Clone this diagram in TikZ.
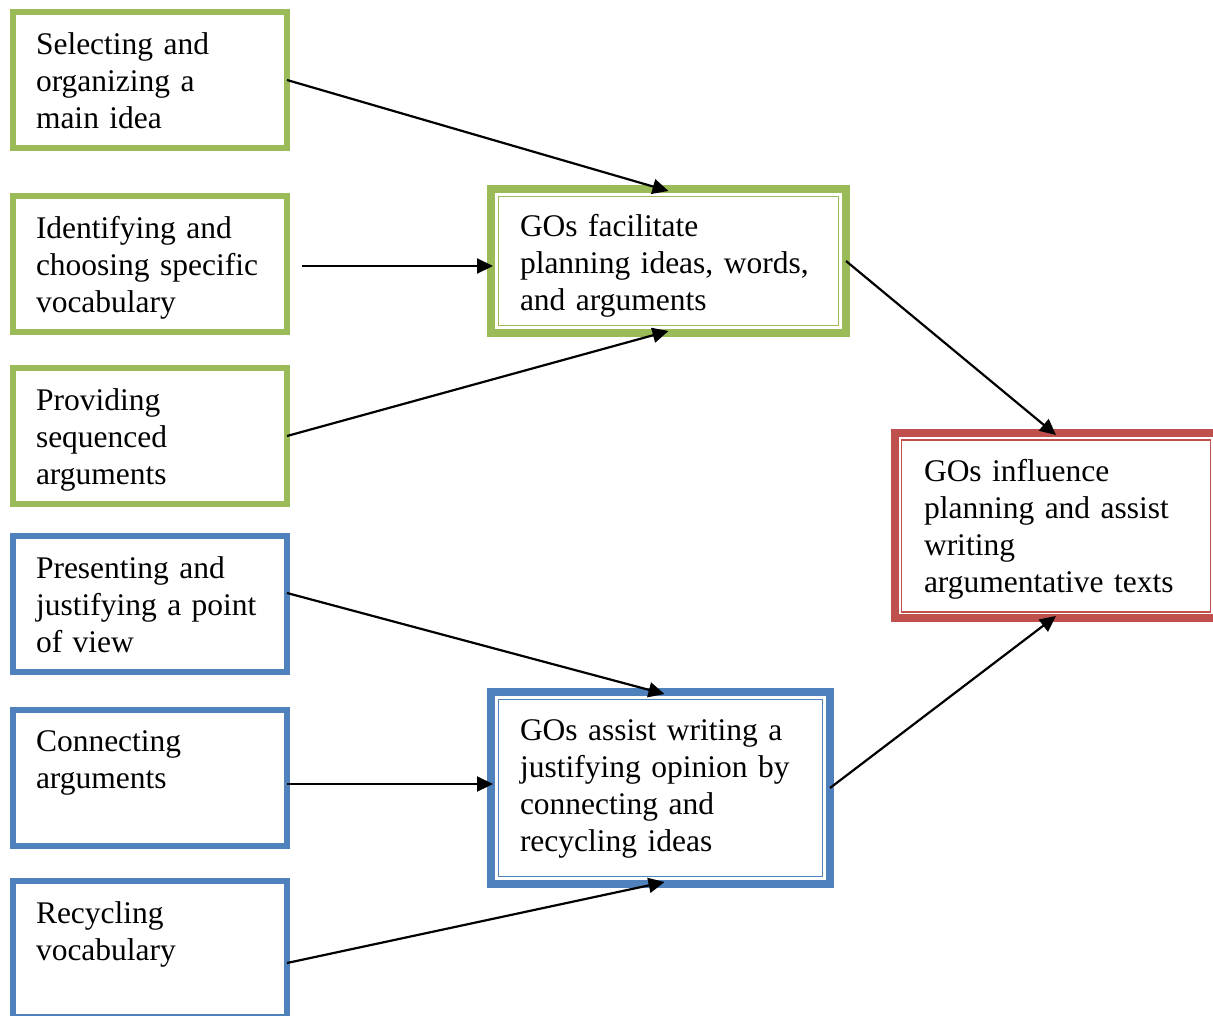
\documentclass[tikz,border=0pt]{standalone}
\usepackage{fontspec}
\setmainfont{Liberation Serif}
\usetikzlibrary{arrows.meta}
\definecolor{gogreen}{HTML}{9BBB59}
\definecolor{goblue}{HTML}{4F81BD}
\definecolor{gored}{HTML}{C0504D}
\begin{document}
\begin{tikzpicture}[x=1pt,y=-1pt,
  every node/.style={font=\fontsize{31.5}{37}\selectfont, outer sep=0pt},
  smallbox/.style={draw, line width=6pt, minimum width=274pt, minimum height=136pt,
    inner xsep=23pt, inner ysep=0pt, text width=228pt, align=left,
    text height=30pt, text depth=82pt},
  bigbox/.style={draw, line width=8pt, inner xsep=29pt, inner ysep=0pt, align=left},
  innerline/.style={line width=1.6pt},
  link/.style={line width=2.2pt, -{Triangle[length=16pt,width=15pt]}}]
\clip (0,0) rectangle (1213,1015);
\useasboundingbox (0,0) rectangle (1213,1015);
\fill[white] (0,0) rectangle (1213,1015);

% left column
\node[smallbox, gogreen, text=black] (b1) at (150,80) {Selecting and\\organizing a\\main idea};
\node[smallbox, gogreen, text=black] (b2) at (150,264) {Identifying and\\choosing specific\\vocabulary};
\node[smallbox, gogreen, text=black] (b3) at (150,436) {Providing\\sequenced\\arguments};
\node[smallbox, goblue, text=black] (b4) at (150,604) {Presenting and\\justifying a point\\of view};
\node[smallbox, goblue, text=black] (b5) at (150,777.5) {Connecting\\arguments};
\node[smallbox, goblue, text=black] (b6) at (150,949) {Recycling\\vocabulary};

% middle column
\node[bigbox, gogreen, text=black, minimum width=355pt, minimum height=144pt,
  text width=297pt, text height=32pt, text depth=82pt] (g) at (668.5,261)
  {GOs facilitate\\planning ideas, words,\\and arguments};
\draw[innerline, gogreen] ([shift={(7.5,7.5)}]g.north west) rectangle ([shift={(-7.5,-7.5)}]g.south east);

\node[bigbox, goblue, text=black, minimum width=339pt, minimum height=192pt,
  text width=281pt, text height=23pt, text depth=119pt] (bm) at (660.5,788)
  {GOs assist writing a\\justifying opinion by\\connecting and\\recycling ideas};
\draw[innerline, goblue] ([shift={(7.5,7.5)}]bm.north west) rectangle ([shift={(-7.5,-7.5)}]bm.south east);

% right
\node[bigbox, gored, text=black, minimum width=322pt, minimum height=185pt,
  text width=264pt, text height=30pt, text depth=119pt] (r) at (1056,525.5)
  {GOs influence\\planning and assist\\writing\\argumentative texts};
\draw[innerline, gored] ([shift={(6.5,7)}]r.north west) rectangle ([shift={(-6.5,-6)}]r.south east);

% connectors
\coordinate (a2s) at (302,266);
\coordinate (a5s) at (287,784);
\draw[link] (b1.east) -- ([yshift=-2pt]g.north);
\draw[link] (a2s) -- ([xshift=2pt]g.west |- a2s);
\draw[link] (b3.east) -- ([yshift=2pt]g.south);
\draw[link] ([yshift=11pt]b4.east) -- ([xshift=4pt,yshift=-2pt]bm.north);
\draw[link] (a5s) -- ([xshift=2pt]bm.west |- a5s);
\draw[link] ([yshift=-14pt]b6.east) -- ([xshift=4pt,yshift=2pt]bm.south);
\draw[link] (g.east) -- ([yshift=-2pt]r.north);
\draw[link] (bm.east) -- ([yshift=2pt]r.south);
\end{tikzpicture}
\end{document}
